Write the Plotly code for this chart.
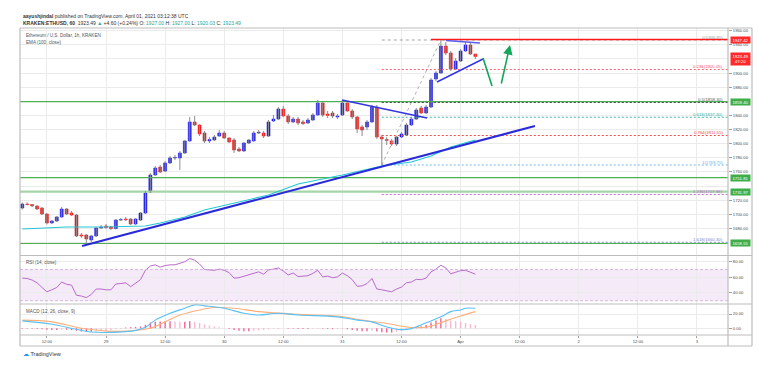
import pandas as pd
import plotly.graph_objects as go
from plotly.subplots import make_subplots

# ---------------- data ----------------
first_candle = "2021-03-28 07:00"   # 1h candles, KRAKEN:ETHUSD
opens = [1708.8, 1714.5, 1713.8, 1711.7, 1708.8, 1700.3, 1687.6, 1690.4, 1696.1, 1707.4,
         1701.7, 1698.9, 1670.6, 1670.6, 1663.5, 1669.2, 1680.5, 1683.3, 1681.9, 1679.8,
         1691.8, 1693.2, 1693.2, 1686.2, 1691.8, 1701.7, 1731.5, 1755.6, 1766.9, 1761.2,
         1772.6, 1779.7, 1779.7, 1786.8, 1803.8, 1830.7, 1826.4, 1815.1, 1803.8, 1805.2,
         1810.8, 1815.1, 1808.0, 1805.2, 1792.4, 1789.6, 1800.9, 1803.8, 1815.1, 1815.1,
         1810.8, 1832.1, 1834.9, 1849.1, 1839.2, 1830.7, 1834.9, 1830.7, 1829.3, 1833.5,
         1840.6, 1857.6, 1842.0, 1843.4, 1837.8, 1840.6, 1857.6, 1846.3, 1837.8, 1823.6,
         1823.6, 1830.7, 1851.9, 1809.4, 1805.9, 1803.8, 1799.5, 1809.4, 1812.3, 1826.4,
         1834.9, 1850.5, 1843.4, 1851.9, 1891.6, 1900.1, 1938.3, 1928.4, 1905.8, 1917.1,
         1931.3, 1939.8, 1927.00]
highs = [1716.6, 1716.6, 1714.5, 1712.4, 1710.3, 1701.7, 1691.8, 1697.5, 1710.3, 1708.8,
         1704.6, 1700.3, 1673.4, 1672.0, 1670.6, 1681.9, 1684.7, 1686.2, 1683.3, 1693.2,
         1694.6, 1696.1, 1694.6, 1694.6, 1703.1, 1732.9, 1758.4, 1768.3, 1769.7, 1775.4,
         1782.5, 1783.9, 1789.6, 1805.2, 1837.8, 1839.2, 1827.8, 1817.9, 1809.4, 1812.3,
         1819.3, 1817.9, 1809.4, 1808.0, 1795.3, 1802.3, 1806.6, 1817.9, 1819.3, 1817.9,
         1833.5, 1840.6, 1851.9, 1853.3, 1842.0, 1837.8, 1837.8, 1833.5, 1836.3, 1843.4,
         1861.8, 1859.0, 1846.3, 1846.3, 1842.0, 1861.8, 1859.0, 1849.1, 1839.2, 1826.4,
         1833.5, 1854.8, 1854.8, 1812.3, 1809.4, 1806.6, 1810.8, 1816.5, 1829.3, 1837.8,
         1850.5, 1853.3, 1854.8, 1893.0, 1902.9, 1946.85, 1944.0, 1931.3, 1921.4, 1934.1,
         1944.0, 1942.6, 1927.00]
lows = [1706.7, 1712.4, 1710.3, 1706.0, 1698.9, 1685.5, 1686.2, 1689.0, 1694.7, 1698.9,
        1697.5, 1667.7, 1666.3, 1659.2, 1660.7, 1667.7, 1679.1, 1679.1, 1677.7, 1678.4,
        1690.4, 1690.4, 1684.7, 1684.7, 1690.4, 1700.3, 1730.1, 1754.2, 1758.4, 1759.8,
        1771.2, 1776.8, 1762.7, 1785.3, 1802.3, 1825.0, 1810.8, 1800.9, 1800.9, 1803.8,
        1809.4, 1806.6, 1800.9, 1786.8, 1788.2, 1788.2, 1799.5, 1802.3, 1813.7, 1808.0,
        1809.4, 1830.7, 1833.5, 1837.8, 1827.8, 1829.3, 1826.4, 1826.4, 1827.8, 1832.1,
        1839.2, 1837.8, 1836.3, 1836.3, 1834.9, 1839.2, 1844.9, 1834.9, 1815.1, 1810.8,
        1819.3, 1829.3, 1806.6, 1769.75, 1798.1, 1796.7, 1796.7, 1808.0, 1810.8, 1825.0,
        1833.5, 1842.0, 1842.0, 1850.5, 1888.7, 1898.7, 1925.6, 1902.9, 1904.4, 1915.7,
        1929.9, 1925.6, 1920.03]
closes = [1714.5, 1713.8, 1711.7, 1707.4, 1700.3, 1687.6, 1690.4, 1696.1, 1707.4, 1700.3,
          1698.9, 1669.2, 1669.2, 1664.9, 1669.2, 1680.5, 1681.9, 1681.2, 1679.8, 1691.8,
          1692.5, 1692.1, 1686.2, 1693.2, 1701.7, 1730.1, 1755.6, 1765.5, 1759.8, 1772.6,
          1779.7, 1780.4, 1786.8, 1803.8, 1830.7, 1826.4, 1813.7, 1803.8, 1805.9, 1809.4,
          1815.1, 1808.0, 1802.3, 1791.0, 1789.6, 1800.9, 1805.2, 1815.1, 1816.2, 1810.8,
          1830.7, 1834.9, 1849.1, 1839.2, 1830.7, 1834.9, 1829.3, 1828.5, 1833.5, 1840.6,
          1857.6, 1840.6, 1839.9, 1839.2, 1839.2, 1857.6, 1846.3, 1837.8, 1820.8, 1819.3,
          1830.7, 1851.9, 1809.4, 1806.6, 1804.5, 1799.5, 1809.4, 1813.7, 1826.4, 1834.9,
          1847.7, 1843.4, 1851.9, 1890.2, 1900.1, 1938.3, 1928.4, 1905.8, 1917.1, 1931.3,
          1939.8, 1927.0, 1923.49]

# EMA(100) read at some candles (candle index, value)
ema_idx = [0, 9, 16, 25, 28, 33, 37, 43, 50, 56, 65, 73, 79, 83, 87, 92]
ema_val = [1679.1, 1681.9, 1681.9, 1683.3, 1687.6, 1696.1, 1706.0, 1715.9, 1727.2,
           1742.8, 1755.6, 1768.3, 1774.0, 1782.5, 1795.3, 1805.2]

rsi = [59, 58.5, 56.5, 53, 47, 41.5, 44, 47, 54, 51,
       50, 37, 36, 34, 38, 45, 45, 44, 44, 51.5,
       52, 53, 48, 52, 57, 69, 74.5, 76, 73, 75,
       76, 76, 78, 80, 84, 82, 77, 70, 69.5, 69,
       70.5, 69, 66, 59, 59.5, 61.5, 63, 65.5, 67, 64,
       69.5, 70.5, 72, 68, 63, 65.5, 61, 61.5, 62, 65,
       69, 60.5, 61.5, 59.5, 60.5, 65.5, 62, 57, 48.5, 49,
       52, 58.5, 45, 44, 43, 41.5, 45, 47.5, 53, 54,
       57.5, 57, 59, 67, 70.5, 75.5, 72, 64.5, 66.5, 68.5,
       69, 67, 64]

macd_idx = [0, 6, 11, 14, 18, 23, 25, 27, 30, 33, 35, 37, 41, 45, 48, 52, 56, 64,
            68, 71, 74, 77, 79, 82, 85, 87, 89, 90, 92]
macd_val = [10.4, 5.7, -1.4, -5.2, -5.7, -2.9, 1.4, 11.4, 21, 28, 32.8, 31.4, 28, 21,
            18.6, 21, 18.6, 16, 11.4, 9, 1.9, -1.9, -0.5, 7.6, 16, 23.3, 25.7, 28, 28]
signal_idx = [0, 6, 12, 19, 26, 29, 32, 36, 39, 43, 48, 56, 64, 69, 74, 78, 81, 83,
              86, 89, 92]
signal_val = [11.4, 9, 0, -4.3, 0, 9, 18.6, 25.7, 29, 28, 23.3, 19.5, 17.1, 11.4, 6.7,
              1.9, 1, 2.9, 10.4, 17.1, 23.3]
hist = [-0.5, -0.5, -0.8, -1, -1.5, -2, -2.5, -2.5, -2, -2,
        -2.5, -3.5, -4.5, -5, -5, -4.5, -4, -3, -2.5, -1.5,
        -1, 1, 1.5, 2, 2.5, 5, 8, 9, 9.5, 10,
        10, 9.5, 9, 9, 10, 9, 7.5, 5.5, 4, 2.5,
        1.5, 0.5, -1, -2.5, -3.5, -4, -4, -3.5, -3, -2.5,
        -1.5, -0.5, 0.5, 0, -0.5, -0.5, -1, -1, -1, -0.8,
        -0.5, -0.8, -1, -1.2, -1, -0.8, -1.5, -2.5, -3.5, -4,
        -4, -3.5, -4.5, -5.5, -6, -6, -5, -3.5, -1.5, 0.5,
        2, 3, 4.5, 8, 11, 14, 13, 11, 10, 9.5,
        7.5, 6, 4.5]

# drawings (time, price)
support_t = ["2021-03-28 19:08", "2021-04-01 15:06"]
support_p = [1655.0, 1825.0]
resist_t = ["2021-03-30 23:55", "2021-03-31 17:11"]
resist_p = [1861.8, 1836.3]
tri_up_t = ["2021-03-31 21:02", "2021-04-01 03:56"]
tri_up_p = [1946.1, 1942.6]
tri_lo_t = ["2021-03-31 19:12", "2021-04-01 04:33"]
tri_lo_p = [1887.3, 1919.9]
gdown_t = ["2021-04-01 04:33", "2021-04-01 06:23"]
gdown_p = [1921.4, 1881.7]
gup_t = ["2021-04-01 08:12", "2021-04-01 10:02"]
gup_p = [1883.1, 1939.8]

fib_start = "2021-03-31 08:00"
fib_end = "2021-03-31 20:00"
fib_levels = ["0", "0.236", "0.5", "0.618", "0.764", "1", "1.236", "1.618"]
fib_prices = [1946.85, 1905.05, 1858.30, 1837.40, 1811.55, 1769.75, 1727.96, 1660.30]
fib_colors = ["#9a9a9a", "#ff4d5e", "#555555", "#2bb3a3", "#f23a3a", "#5fb4ee", "#c165d6", "#7986cb"]

red_line_start = "2021-03-31 18:00"
red_line_price = 1947.42
green_levels = [1859.40, 1751.81, 1731.97, 1658.55]

last_price = 1923.49
countdown = "47:20"

price_ticks = [1680, 1700, 1720, 1760, 1780, 1800, 1820, 1840, 1880, 1900, 1940, 1960]

x_tickvals = ["2021-03-28 12:00", "2021-03-29 00:00", "2021-03-29 12:00", "2021-03-30 00:00",
              "2021-03-30 12:00", "2021-03-31 00:00", "2021-03-31 12:00", "2021-04-01 00:00",
              "2021-04-01 12:00", "2021-04-02 00:00", "2021-04-02 12:00", "2021-04-03 00:00"]
x_ticktext = ["12:00", "29", "12:00", "30", "12:00", "31", "12:00", "Apr", "12:00", "2", "12:00", "3"]
x_range = ["2021-03-28 06:32", "2021-04-03 06:18"]

# ---------------- layout helpers ----------------
W, H = 781, 376
ML, MR, MT, MB = 20, 53, 28, 41
PW, PH = W - ML - MR, H - MT - MB


def px_x(p):
    return (p - ML) / PW


def px_y(p):
    return (H - MB - p) / PH


UP, DOWN = "#2020e8", "#ee1b1b"
GRID = "#ebebeb"
TXT = "#4d4d4d"
FRAME = "#bdbdbd"
FONT = "Liberation Sans"

times = pd.date_range(first_candle, periods=len(opens), freq="h")

fig = make_subplots(rows=3, cols=1, shared_xaxes=True, vertical_spacing=0)

# ---- main pane ----
for lvl, p, col in zip(fib_levels, fib_prices, fib_colors):
    fig.add_trace(go.Scatter(x=[fib_start, x_range[1]], y=[p, p], mode="lines",
                             line=dict(color=col, width=1, dash="2px,2px" if lvl != "0" else "3px,3px"),
                             opacity=0.9, hoverinfo="skip"), row=1, col=1)

g_styles = [("#4caf50", 1.2), ("#4caf50", 1.2), ("#a5d6a7", 2.2), ("#4caf50", 1.2)]
for p, (col, w) in zip(green_levels, g_styles):
    fig.add_trace(go.Scatter(x=x_range, y=[p, p], mode="lines", line=dict(color=col, width=w),
                             hoverinfo="skip"), row=1, col=1)
fig.add_trace(go.Scatter(x=[fib_start, x_range[1]], y=[fib_prices[2]] * 2, mode="lines",
                         line=dict(color="#555555", width=1, dash="2px,2px"), hoverinfo="skip"),
              row=1, col=1)

fig.add_trace(go.Scatter(x=[fib_start, fib_end], y=[fib_prices[5], fib_prices[0]], mode="lines",
                         line=dict(color="#b0b0b0", width=1, dash="dot"), hoverinfo="skip"),
              row=1, col=1)

fig.add_trace(go.Scatter(x=[red_line_start, x_range[1]], y=[red_line_price] * 2, mode="lines",
                         line=dict(color="#ff1a1a", width=1.5), hoverinfo="skip"), row=1, col=1)

fig.add_trace(go.Scatter(x=[times[i] for i in ema_idx], y=ema_val, mode="lines",
                         line=dict(color="#22c7d6", width=1.1), hoverinfo="skip"), row=1, col=1)

wx, wy = [], []
for t, hi, lo in zip(times, highs, lows):
    wx += [t, t, None]
    wy += [lo, hi, None]
fig.add_trace(go.Scatter(x=wx, y=wy, mode="lines", line=dict(color="#8c8c8c", width=1),
                         hoverinfo="skip"), row=1, col=1)

body_col = [UP if c >= o else DOWN for o, c in zip(opens, closes)]
fig.add_trace(go.Bar(x=times, y=[c - o for o, c in zip(opens, closes)], base=opens,
                     width=0.6 * 3600 * 1000,
                     marker=dict(color=body_col, line=dict(color=body_col, width=0.6)),
                     hoverinfo="skip"), row=1, col=1)

fig.add_trace(go.Scatter(x=support_t, y=support_p, mode="lines",
                         line=dict(color="#2a2ad8", width=2), hoverinfo="skip"), row=1, col=1)
fig.add_trace(go.Scatter(x=resist_t, y=resist_p, mode="lines",
                         line=dict(color="#3535e0", width=1.5), hoverinfo="skip"), row=1, col=1)
fig.add_trace(go.Scatter(x=tri_up_t, y=tri_up_p, mode="lines",
                         line=dict(color="#5b5bf0", width=1.5), hoverinfo="skip"), row=1, col=1)
fig.add_trace(go.Scatter(x=tri_lo_t, y=tri_lo_p, mode="lines",
                         line=dict(color="#3535e6", width=1.5), hoverinfo="skip"), row=1, col=1)
fig.add_trace(go.Scatter(x=gdown_t, y=gdown_p, mode="lines",
                         line=dict(color="#11a85a", width=1.6), hoverinfo="skip"), row=1, col=1)

# ---- RSI pane ----
fig.add_trace(go.Scatter(x=times, y=rsi, mode="lines", line=dict(color="#b86bcb", width=1),
                         hoverinfo="skip"), row=2, col=1)

# ---- MACD pane ----
h_col = []
for i, v in enumerate(hist):
    prev = hist[i - 1] if i > 0 else v
    strong = (v >= prev) if v >= 0 else (v <= prev)
    h_col.append("#f0628f" if strong else "#f7b8cf")
fig.add_trace(go.Bar(x=times, y=hist, width=0.28 * 3600 * 1000, marker=dict(color=h_col, line=dict(width=0)),
                     hoverinfo="skip"), row=3, col=1)
fig.add_trace(go.Scatter(x=[times[i] for i in signal_idx], y=signal_val, mode="lines",
                         line=dict(color="#ffae7a", width=1.1, shape="spline"), hoverinfo="skip"),
              row=3, col=1)
fig.add_trace(go.Scatter(x=[times[i] for i in macd_idx], y=macd_val, mode="lines",
                         line=dict(color="#59c0f5", width=1.1, shape="spline"), hoverinfo="skip"),
              row=3, col=1)

# ---------------- axes ----------------
fig.update_xaxes(type="date", range=x_range, tickvals=x_tickvals, ticktext=x_ticktext,
                 showgrid=True, gridcolor=GRID, gridwidth=1, zeroline=False, showline=False,
                 tickfont=dict(size=4.2, color=TXT, family=FONT), fixedrange=True)
fig.update_xaxes(showticklabels=False, ticks="", row=1, col=1)
fig.update_xaxes(showticklabels=False, ticks="", row=2, col=1)
fig.update_xaxes(ticks="outside", ticklen=2, tickcolor="#9e9e9e", row=3, col=1)

yaxis_common = dict(side="right", showgrid=True, gridcolor=GRID, gridwidth=1, zeroline=False,
                    showline=False, ticks="outside", ticklen=3, tickcolor="#9e9e9e",
                    tickformat=".2f", tickfont=dict(size=4.2, color=TXT, family=FONT),
                    automargin=False, fixedrange=True)
fig.update_layout(
    yaxis=dict(domain=[px_y(255), 1], range=[1642.24, 1963.85], tickvals=price_ticks,
               minor=dict(dtick=20, tick0=0, showgrid=True, gridcolor=GRID, ticks=""),
               **yaxis_common),
    yaxis2=dict(domain=[px_y(304), px_y(255)], range=[25.8, 88.6], tickvals=[40, 60, 80], **yaxis_common),
    yaxis3=dict(domain=[0, px_y(304)], range=[-9.4, 34], tickvals=[0, 20], **yaxis_common),
)

# ---------------- shapes ----------------
shapes = [
    dict(type="rect", xref="x2 domain", yref="y2", x0=0, x1=1, y0=30, y1=70,
         fillcolor="rgba(170,80,200,0.12)", line=dict(width=0), layer="below"),
    dict(type="line", xref="x2 domain", yref="y2", x0=0, x1=1, y0=70, y1=70,
         line=dict(color="#cfa8dc", width=0.8, dash="3px,2px")),
    dict(type="line", xref="x2 domain", yref="y2", x0=0, x1=1, y0=30, y1=30,
         line=dict(color="#cfa8dc", width=0.8, dash="3px,2px")),
]
for (x0, y0, x1, y1) in [(20, 28, 752, 28), (20, 346, 752, 346), (20, 28, 20, 346),
                         (752, 28, 752, 346), (728, 28, 728, 346), (20, 335, 752, 335),
                         (20, 255.5, 752, 255.5), (20, 304, 752, 304)]:
    shapes.append(dict(type="line", xref="paper", yref="paper",
                       x0=px_x(x0), x1=px_x(x1), y0=px_y(y0), y1=px_y(y1),
                       line=dict(color=FRAME, width=1.2)))

# ---------------- annotations ----------------
ann = []
teal = "#26a69a"
o, hh, ll, c = opens[-1], highs[-1], lows[-1], closes[-1]
header2 = (f"<b>KRAKEN:ETHUSD, 60</b>  {c:.2f} <span style='color:{teal}'>▲</span> +4.60 (+0.24%) "
           f"O: <span style='color:{teal}'>{o:.2f}</span> H: <span style='color:{teal}'>{hh:.2f}</span> "
           f"L: <span style='color:{teal}'>{ll:.2f}</span> C: <span style='color:{teal}'>{c:.2f}</span>")
ann.append(dict(xref="paper", yref="paper", x=px_x(21), y=px_y(15.7), xanchor="left", yanchor="middle",
                text="<b>aayushjindal</b> published on TradingView.com, April 01, 2021 03:12:38 UTC",
                showarrow=False, font=dict(size=5, color="#333333", family=FONT)))
ann.append(dict(xref="paper", yref="paper", x=px_x(21), y=px_y(23.3), xanchor="left", yanchor="middle",
                text=header2, showarrow=False, font=dict(size=5, color="#333333", family=FONT)))
for txt, py in [("Ethereum / U.S. Dollar, 1h, KRAKEN", 35), ("EMA (100, close)", 42),
                ("RSI (14, close)", 262), ("MACD (12, 26, close, 9)", 311)]:
    ann.append(dict(xref="paper", yref="paper", x=px_x(24), y=px_y(py), xanchor="left",
                    yanchor="middle", text=txt, showarrow=False,
                    font=dict(size=4.6, color="#555555", family=FONT)))

for lvl, p, col in zip(fib_levels, fib_prices, fib_colors):
    ann.append(dict(xref="paper", yref="y", x=px_x(725), y=p, yshift=3, xanchor="right",
                    yanchor="middle", text=f"{lvl}({p:.2f})", showarrow=False,
                    font=dict(size=4.3, color=col, family=FONT)))

boxes = [(red_line_price, f"{red_line_price:.2f}", "#ff2a2a"),
         (green_levels[0], f"{green_levels[0]:.2f}", "#3fae49"),
         (green_levels[1], f"{green_levels[1]:.2f}", "#3fae49"),
         (green_levels[2], f"{green_levels[2]:.2f}", "#3fae49"),
         (green_levels[3], f"{green_levels[3]:.2f}", "#3fae49")]
for p, t, col in boxes:
    ann.append(dict(xref="paper", yref="y", x=px_x(740.5), y=p, xanchor="center", yanchor="middle",
                    text=t, showarrow=False, bgcolor=col, width=19, height=6, borderpad=0,
                    font=dict(size=4.3, color="white", family=FONT)))
ann.append(dict(xref="paper", yref="y", x=px_x(740.5), y=last_price, yshift=-3, xanchor="center",
                yanchor="middle", text=f"{last_price:.2f}<br>{countdown}", showarrow=False,
                bgcolor="#ff2a2a", width=19, height=12, borderpad=0,
                font=dict(size=4.3, color="white", family=FONT)))

ann.append(dict(xref="x", yref="y", x=gup_t[1], y=gup_p[1], axref="x", ayref="y",
                ax=gup_t[0], ay=gup_p[0], showarrow=True, arrowhead=2, arrowsize=1.2,
                arrowwidth=1.6, arrowcolor="#11a85a", text=""))

ann.append(dict(xref="paper", yref="paper", x=px_x(21), y=px_y(353.5), xanchor="left",
                yanchor="middle", showarrow=False,
                text="<span style='color:#2196f3'>☁</span> TradingView",
                font=dict(size=5.5, color="#333333", family=FONT)))

fig.update_layout(
    width=W, height=H, margin=dict(l=ML, r=MR, t=MT, b=MB, autoexpand=False),
    paper_bgcolor="white", plot_bgcolor="white", showlegend=False,
    font=dict(family=FONT, size=5, color=TXT),
    shapes=shapes, annotations=ann, barmode="overlay", hovermode=False, dragmode=False,
)

fig.write_html("out.html", config={"displayModeBar": False, "staticPlot": True},
               post_script="document.body.style.margin='0px';")
